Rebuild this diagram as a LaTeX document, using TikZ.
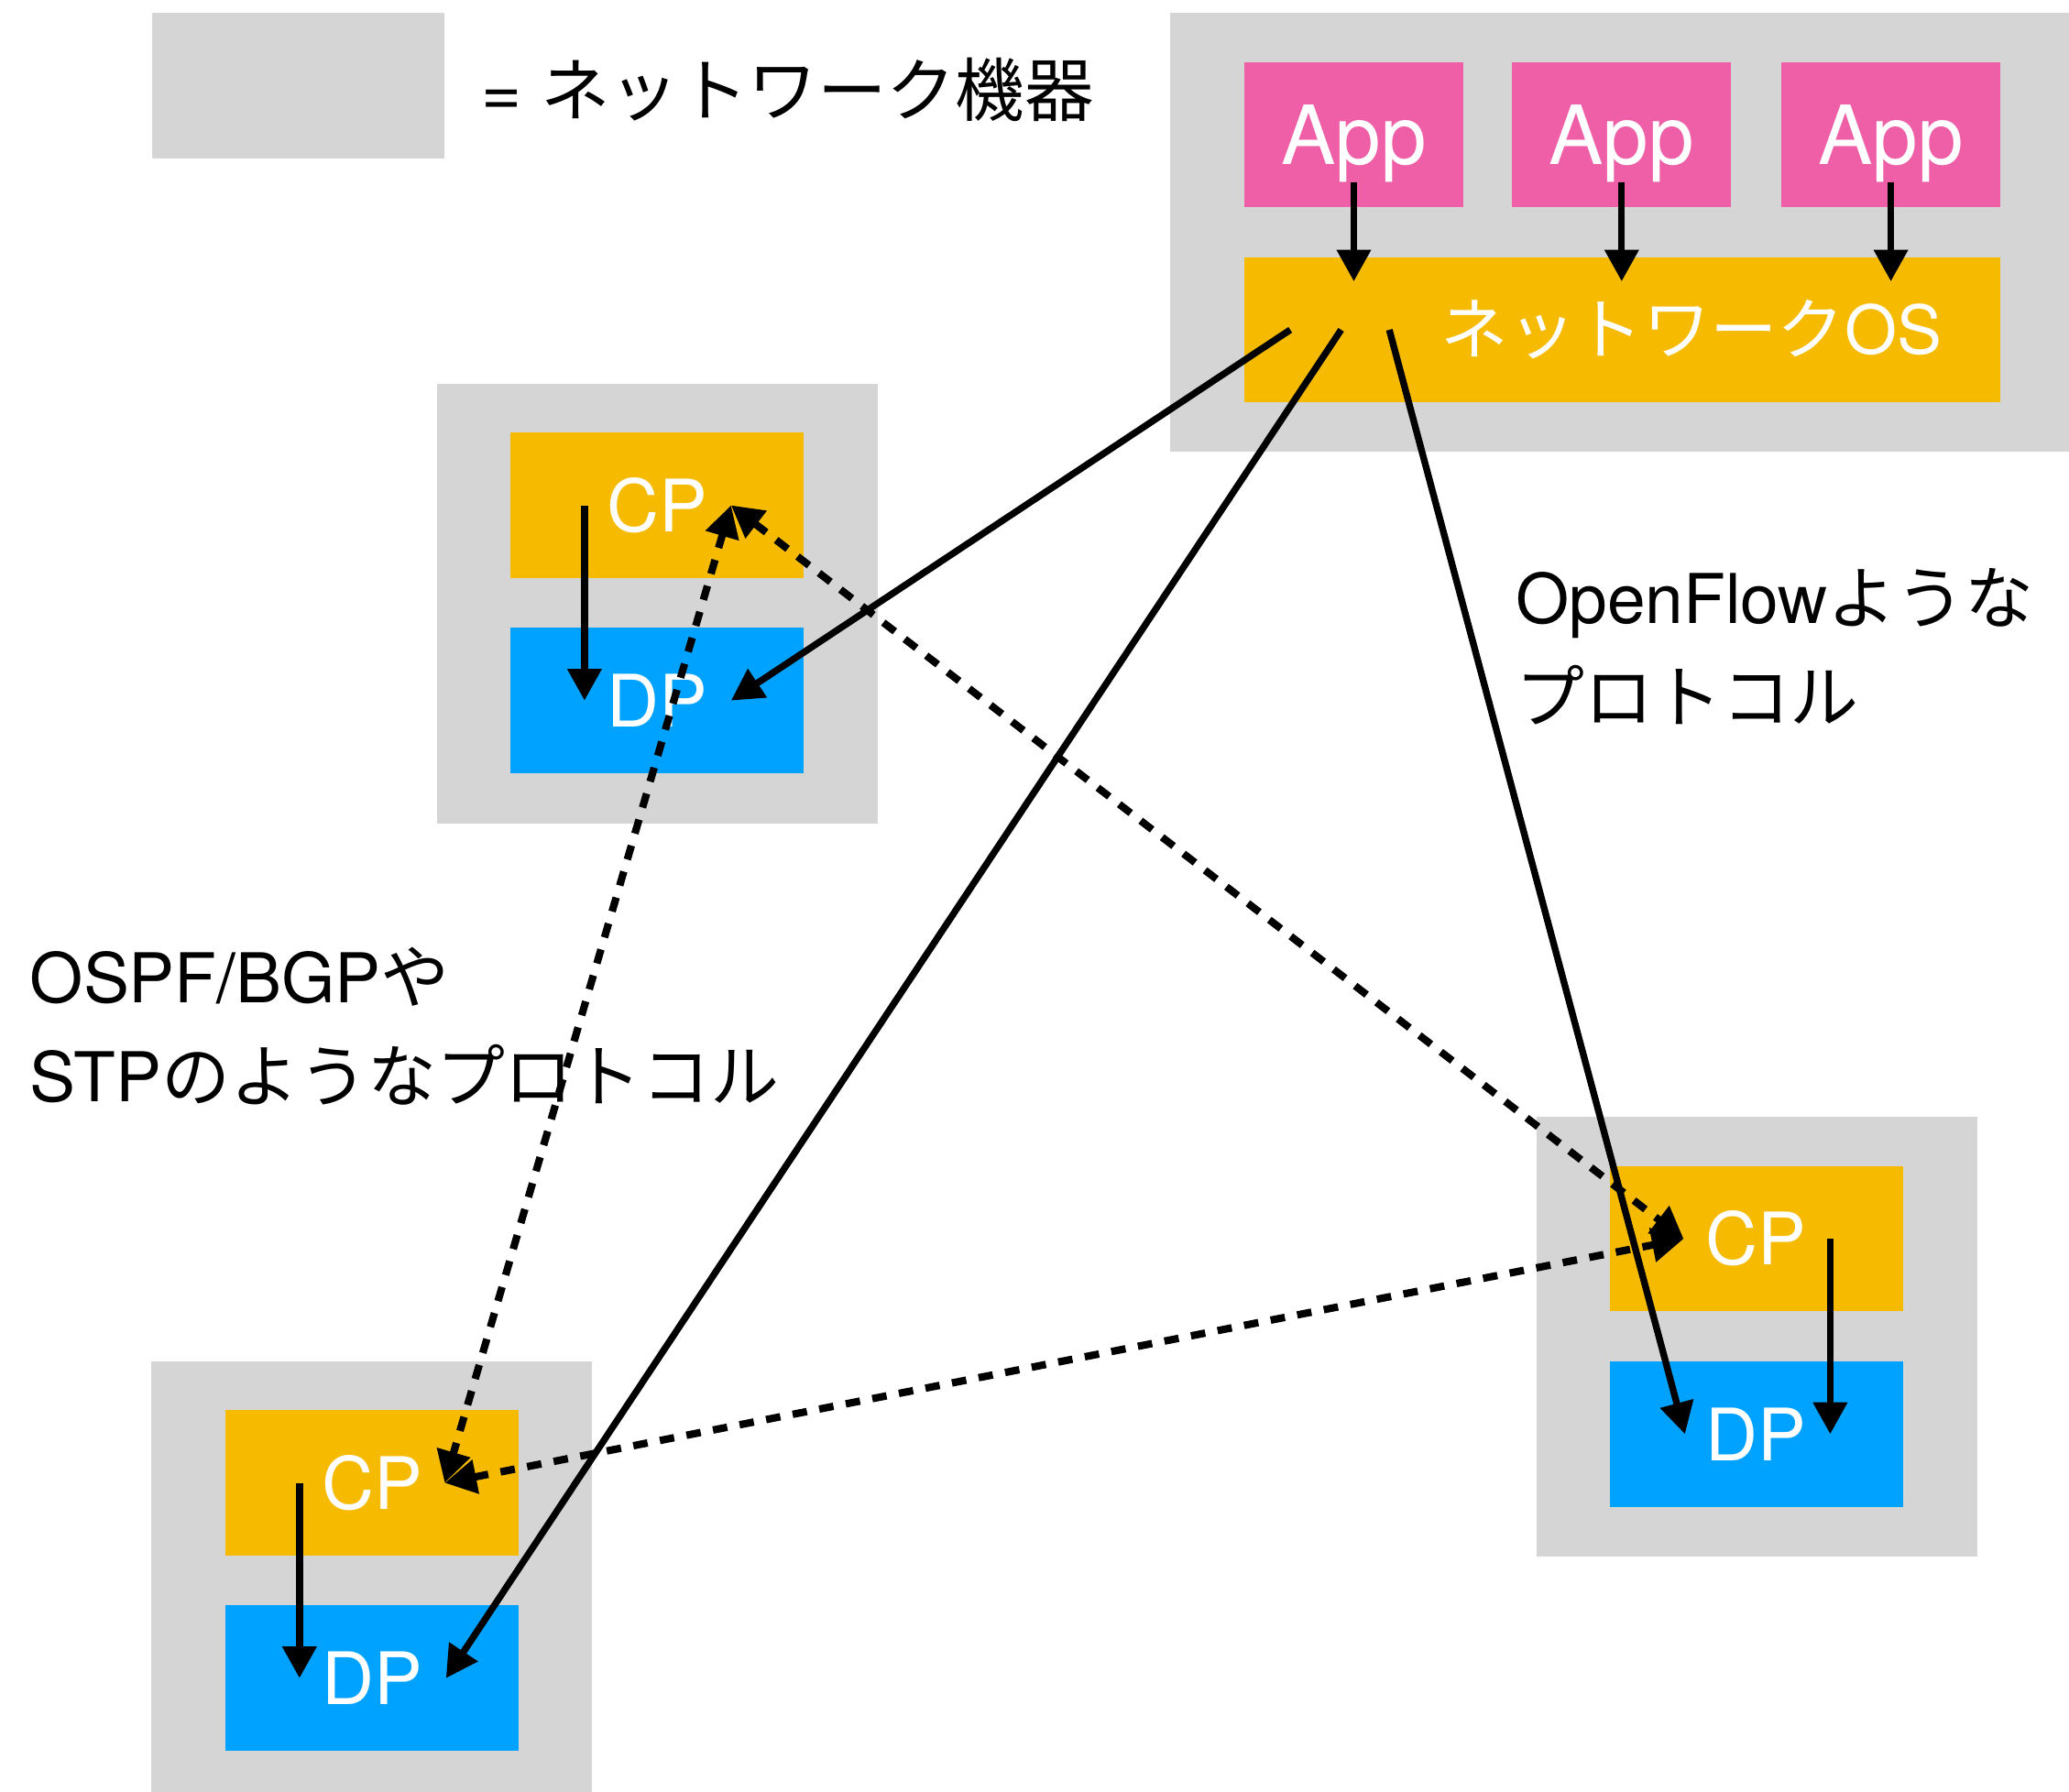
\documentclass[tikz,border=0pt]{standalone}
\usepackage{fontspec}
\setmainfont{TeX Gyre Heros}
\newfontfamily\jpfont{Noto Sans CJK JP}
\usetikzlibrary{arrows.meta}

\definecolor{devgray}{HTML}{D5D5D5}
\definecolor{apppink}{HTML}{EE5FA7}
\definecolor{cpyellow}{HTML}{F6BA00}
\definecolor{dpblue}{HTML}{00A2FF}

\tikzset{
  device/.style={fill=devgray, inner sep=0pt, minimum width=3.34cm, minimum height=3.33cm},
  plane/.style={inner sep=0pt, minimum width=2.22cm, minimum height=1.10cm, text=white, font=\fontsize{15.6}{18}\selectfont},
  cp/.style={plane, fill=cpyellow},
  dp/.style={plane, fill=dpblue},
  app/.style={fill=apppink, inner sep=0pt, minimum width=1.66cm, minimum height=1.10cm, text=white, text depth=0pt, font=\fontsize{17.6}{20}\selectfont},
  ctl/.style={line width=1.45pt, -{Triangle[length=0.24cm, width=0.25cm]}},
  proto/.style={line width=1.6pt, dash pattern=on 0.11cm off 0.095cm,
    {Triangle[length=0.24cm, width=0.25cm]}-{Triangle[length=0.24cm, width=0.25cm]}},
  note/.style={anchor=west, align=left, inner sep=0pt, font=\fontsize{14.8}{21.3}\selectfont},
}

\begin{document}
\begin{tikzpicture}[x=0.01cm, y=-0.01cm]
\useasboundingbox (0,0) rectangle (1568,1358);

% legend
\node[device, minimum width=2.22cm, minimum height=1.10cm] (key) at (226,65) {};
\node[anchor=west, inner sep=0pt, font=\fontsize{14.9}{18}\selectfont] (keytext) at (364,68) {= {\jpfont ネットワーク機器}};

% controller
\node[device, minimum width=6.90cm, minimum height=3.32cm] (ctrl) at (1232,176) {};
\node[app] (app1) at (1026,102) {App};
\node[app] (app2) at (1229,102) {App};
\node[app] (app3) at (1433,102) {App};
\node[cp, minimum width=5.73cm] (nos) at (1229.5,250) {};
\node[text=white, inner sep=0pt, font=\fontsize{14.5}{18}\selectfont] (nostext) at (1282,250) {{\jpfont ネットワーク}OS};

% switches
\node[device] (swA) at (498,457.5) {};
\node[cp] (cpA) at (498,383) {CP};
\node[dp] (dpA) at (498,531) {DP};

\node[device] (swB) at (281.5,1198.5) {};
\node[cp] (cpB) at (282,1124) {CP};
\node[dp] (dpB) at (282,1272) {DP};

\node[device] (swC) at (1331.5,1013) {};
\node[cp] (cpC) at (1331,939) {CP};
\node[dp] (dpC) at (1331,1087) {DP};

% labels
\node[note] (ofnote) at (1148,490) {OpenFlow{\jpfont ような}\\{\jpfont プロトコル}};
\node[note] (ospfnote) at (22,778) {OSPF/BGP{\jpfont や}\\STP{\jpfont のようなプロトコル}};

% app -> network OS
\draw[ctl] ([yshift=-0.36cm]app1.center) -- ([yshift=-0.19cm]app1 |- nos.north);
\draw[ctl] ([yshift=-0.36cm]app2.center) -- ([yshift=-0.19cm]app2 |- nos.north);
\draw[ctl] ([yshift=-0.36cm]app3.center) -- ([yshift=-0.19cm]app3 |- nos.north);

% CP -> DP inside each switch
\draw[ctl] ([xshift=-0.55cm]cpA.center) -- ([xshift=-0.55cm]dpA.center);
\draw[ctl] ([xshift=-0.55cm]cpB.center) -- ([xshift=-0.55cm]dpB.center);
\draw[ctl] ([xshift=0.56cm]cpC.center) -- ([xshift=0.56cm]dpC.center);

% routing protocols between CPs
\draw[proto] ([xshift=0.56cm]cpA.center) -- ([xshift=0.55cm]cpB.center);
\draw[proto] ([xshift=0.56cm]cpA.center) -- ([xshift=-0.55cm]cpC.center);
\draw[proto] ([xshift=0.55cm]cpB.center) -- ([xshift=-0.55cm]cpC.center);

% network OS -> DPs
\draw[ctl] ([xshift=-2.515cm]nos.center) -- ([xshift=0.56cm]dpA.center);
\draw[ctl] ([xshift=-2.13cm]nos.center) -- ([xshift=0.56cm]dpB.center);
\draw[ctl] ([xshift=-1.765cm]nos.center) -- ([xshift=-0.54cm]dpC.center);

\end{tikzpicture}
\end{document}
